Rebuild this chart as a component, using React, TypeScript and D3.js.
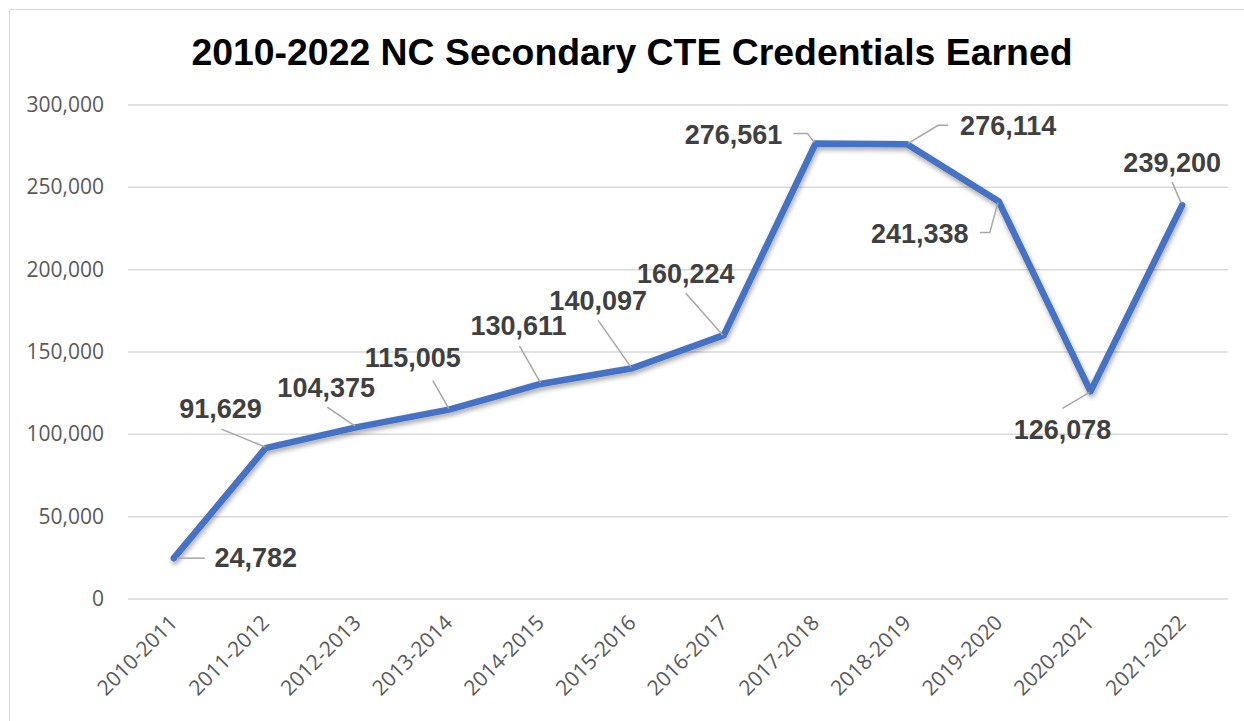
import React from "react";
import * as d3 from "d3";

const categories = [
  "2010-2011", "2011-2012", "2012-2013", "2013-2014", "2014-2015", "2015-2016",
  "2016-2017", "2017-2018", "2018-2019", "2019-2020", "2020-2021", "2021-2022",
];
const credentials = [
  24782, 91629, 104375, 115005, 130611, 140097, 160224, 276561, 276114, 241338, 126078, 239200,
];
const yTicks = [0, 50000, 100000, 150000, 200000, 250000, 300000];
const title = "2010-2022 NC Secondary CTE Credentials Earned";

// label placement relative to the point: [dx, dy] of text centre/baseline, and leader polyline offsets
const labelLayout: { t: [number, number]; leader: [number, number][] }[] = [
  { t: [82, 9], leader: [[3, 0], [31, 0]] },
  { t: [-45, -30], leader: [[0, -1], [-44, -19]] },
  { t: [-31, -30], leader: [[-2, -1], [-30, -20]] },
  { t: [-36, -43], leader: [[0, -1], [-16, -29]] },
  { t: [-22, -49], leader: [[0, -1], [-21, -38]] },
  { t: [-34, -58], leader: [[-1, -1], [-34, -48]] },
  { t: [-38, -52], leader: [[-1, 0], [-38, -42]] },
  { t: [-82, 0], leader: [[-1, -1], [-8, -10], [-22, -10]] },
  { t: [101, -9], leader: [[1, -1], [31, -19], [41, -19]] },
  { t: [-79, 41], leader: [[-1, 1], [-9, 31], [-19, 31]] },
  { t: [-28, 48], leader: [[-1, 1], [-28, 17]] },
  { t: [-10, -33], leader: [[-1, -2], [-10, -23]] },
];

export default function App() {
  const W = 1244, H = 721;
  const left = 128, right = 1228, top = 105, bottom = 599;
  const x = d3.scaleBand<string>().domain(categories).range([left, right]);
  const y = d3.scaleLinear().domain([0, 300000]).range([bottom, top]);
  const fmt = d3.format(",");
  const pts = credentials.map((v, i) => [x(categories[i])! + x.bandwidth() / 2, y(v)] as [number, number]);
  const line = d3.line<[number, number]>()(pts) || "";

  return (
    <svg width={W} height={H} style={{ position: "absolute", left: 0, top: 0 }}>
      <defs>
        <filter id="sh" x="-10%" y="-10%" width="120%" height="130%">
          <feGaussianBlur in="SourceAlpha" stdDeviation="2.5" />
          <feOffset dx="1" dy="3" result="o" />
          <feComponentTransfer>
            <feFuncA type="linear" slope="0.35" />
          </feComponentTransfer>
          <feMerge>
            <feMergeNode />
            <feMergeNode in="SourceGraphic" />
          </feMerge>
        </filter>
      </defs>
      <rect x={0} y={0} width={W} height={H} fill="#fff" />
      <rect x={9.5} y={9.5} width={1250} height={720} fill="#fff" stroke="#D9D9D9" strokeWidth={1} />
      <text x={632} y={65} textAnchor="middle" fontFamily="Liberation Sans, Arial, sans-serif" fontWeight="bold" fontSize={37.4} fill="#000">{title}</text>
      {yTicks.map((t) => (
        <g key={t}>
          <line x1={left} x2={right} y1={y(t)} y2={y(t)} stroke="#D9D9D9" strokeWidth={1.5} />
          <text x={104} y={y(t) + 7} textAnchor="end" fontFamily="Open Sans, sans-serif" fontSize={21} fill="#595959">{fmt(t)}</text>
        </g>
      ))}
      {categories.map((c) => {
        const cx = x(c)! + x.bandwidth() / 2 + 5;
        const cy = 624;
        return (
          <text key={c} x={cx} y={cy} transform={`rotate(-45 ${cx} ${cy})`} textAnchor="end" fontFamily="Open Sans, sans-serif" fontSize={21} fill="#595959">{c}</text>
        );
      })}
      <path d={line} fill="none" stroke="#4472C4" strokeWidth={6.5} strokeLinejoin="round" strokeLinecap="round" filter="url(#sh)" />
      {pts.map(([px, py], i) => {
        const L = labelLayout[i];
        const lp = L.leader.map(([dx, dy]) => [px + dx, py + dy] as [number, number]);
        return (
          <g key={i}>
            <path d={d3.line()(lp) || ""} fill="none" stroke="#A6A6A6" strokeWidth={1.5} />
            <text x={px + L.t[0]} y={py + L.t[1]} textAnchor="middle" fontFamily="Liberation Sans, Arial, sans-serif" fontWeight="bold" fontSize={27} fill="#404040">{fmt(credentials[i])}</text>
          </g>
        );
      })}
    </svg>
  );
}
